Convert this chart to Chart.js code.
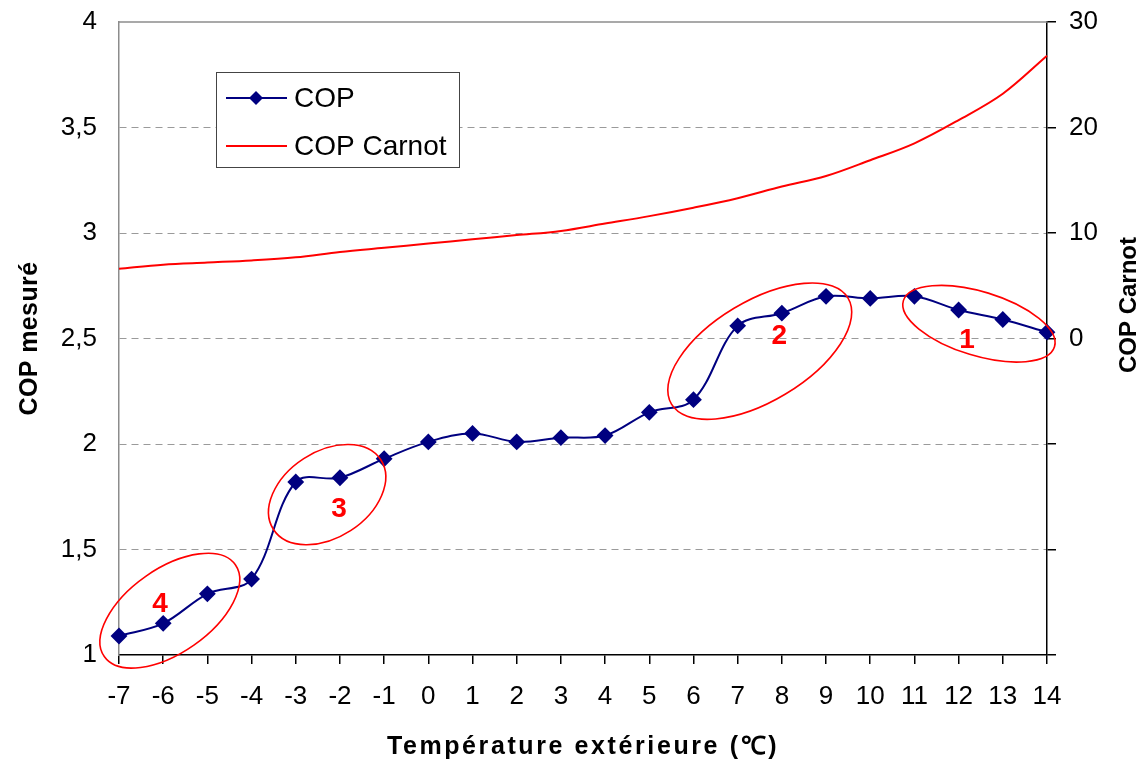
<!DOCTYPE html>
<html><head><meta charset="utf-8">
<script src="https://cdn.jsdelivr.net/npm/chart.js@4/dist/chart.umd.min.js"></script>
<style>html,body{margin:0;padding:0;background:#fff}#wrap{width:1145px;height:764px}</style>
</head><body><div id="wrap"><canvas id="c" width="1145" height="764"></canvas></div>
<script>
// ---- data ----
const temperatures = [-7,-6,-5,-4,-3,-2,-1,0,1,2,3,4,5,6,7,8,9,10,11,12,13,14];
const copMesure = [1.09,1.15,1.29,1.36,1.82,1.84,1.93,2.01,2.05,2.01,2.03,2.04,2.15,2.21,2.56,2.62,2.70,2.69,2.70,2.635,2.59,2.53];
const copCarnot = [6.6,7.0,7.2,7.4,7.7,8.2,8.6,9.0,9.4,9.8,10.2,10.9,11.6,12.4,13.3,14.4,15.4,16.9,18.5,20.7,23.2,26.8];
const leftTickValues = [1,1.5,2,2.5,3,3.5,4];
const rightTickLabels = [0,10,20,30];
const seriesNames = ['COP','COP Carnot'];
const axisTitles = {x:'Température extérieure (℃)', y:'COP mesuré', y2:'COP Carnot'};

// annotation zones (centre in data units, radii in px)
const zones = [
  {label:'1', cx:12.46, cy:2.57, rx:79, ry:32, angle:17,  tx:12.19, ty:2.49},
  {label:'2', cx:7.5,   cy:2.44, rx:103, ry:50, angle:-31, tx:7.94, ty:2.51},
  {label:'3', cx:-2.29, cy:1.76, rx:64, ry:43, angle:-33, tx:-2.02, ty:1.69},
  {label:'4', cx:-5.85, cy:1.21, rx:80, ry:42, angle:-35, tx:-6.07, ty:1.24}
];

const FONT = '"Liberation Sans", Arial, sans-serif';
const NAVY = '#000080', RED = '#ff0000';

const overlay = {
  id:'overlay',
  afterDatasetsDraw(chart){
    const ctx = chart.ctx, a = chart.chartArea;
    const xs = chart.scales.x, ys = chart.scales.y;
    ctx.save();
    // top border
    ctx.strokeStyle = '#8c8c8c'; ctx.lineWidth = 1.5;
    ctx.beginPath(); ctx.moveTo(a.left, a.top); ctx.lineTo(a.right, a.top); ctx.stroke();
    // zones
    zones.forEach(z=>{
      const cx = xs.getPixelForValue(z.cx), cy = ys.getPixelForValue(z.cy);
      ctx.strokeStyle = RED; ctx.lineWidth = 1.6;
      ctx.beginPath();
      ctx.ellipse(cx, cy, z.rx, z.ry, z.angle*Math.PI/180, 0, Math.PI*2);
      ctx.stroke();
      ctx.fillStyle = RED; ctx.font = 'bold 28px '+FONT;
      ctx.textAlign='center'; ctx.textBaseline='middle';
      ctx.fillText(z.label, xs.getPixelForValue(z.tx), ys.getPixelForValue(z.ty));
    });
    // legend
    const lx=216, ly=72, lw=243, lh=95;
    ctx.fillStyle='#fff'; ctx.fillRect(lx,ly,lw,lh);
    ctx.strokeStyle='#444'; ctx.lineWidth=1; ctx.strokeRect(lx+0.5,ly+0.5,lw,lh);
    const rows=[ly+26, ly+74];
    ctx.lineWidth=2;
    ctx.strokeStyle=NAVY; ctx.beginPath(); ctx.moveTo(226,rows[0]); ctx.lineTo(287,rows[0]); ctx.stroke();
    ctx.fillStyle=NAVY; ctx.beginPath();
    ctx.moveTo(256,rows[0]-7); ctx.lineTo(263,rows[0]); ctx.lineTo(256,rows[0]+7); ctx.lineTo(249,rows[0]); ctx.closePath(); ctx.fill();
    ctx.strokeStyle=RED; ctx.beginPath(); ctx.moveTo(226,rows[1]); ctx.lineTo(287,rows[1]); ctx.stroke();
    ctx.fillStyle='#000'; ctx.font='28px '+FONT; ctx.textAlign='left'; ctx.textBaseline='middle';
    ctx.fillText(seriesNames[0],294,rows[0]+1);
    ctx.fillText(seriesNames[1],294,rows[1]+1);
    // axis titles
    ctx.fillStyle='#000'; ctx.textAlign='center'; ctx.textBaseline='middle';
    ctx.font='bold 25px '+FONT;
    ctx.letterSpacing='2.6px';
    ctx.fillText(axisTitles.x,(a.left+a.right)/2,747);
    ctx.letterSpacing='0.4px';
    ctx.save(); ctx.translate(30,(a.top+a.bottom)/2); ctx.rotate(-Math.PI/2);
    ctx.fillText(axisTitles.y,0,0); ctx.restore();
    ctx.letterSpacing='0px';
    ctx.font='bold 24px '+FONT;
    ctx.save(); ctx.translate(1129,305); ctx.rotate(-Math.PI/2);
    ctx.fillText(axisTitles.y2,0,0); ctx.restore();
    ctx.restore();
  }
};

function noPadV(s){ s.paddingTop=0; s.paddingBottom=0; }

new Chart(document.getElementById('c'),{
  type:'line',
  data:{datasets:[
    {label:seriesNames[0], data:temperatures.map((t,i)=>({x:t,y:copMesure[i]})), yAxisID:'y',
     borderColor:NAVY, backgroundColor:NAVY, borderWidth:2, pointStyle:'rectRot', pointRadius:7, pointHoverRadius:7,
     tension:0.35, clip:false, order:1},
    {label:seriesNames[1], data:temperatures.map((t,i)=>({x:t,y:copCarnot[i]})), yAxisID:'y2',
     borderColor:RED, borderWidth:2, pointRadius:0, tension:0.35, clip:false, order:2}
  ]},
  options:{
    responsive:false, animation:false, devicePixelRatio:1,
    layout:{padding:{top:22,left:0,right:0,bottom:0}},
    plugins:{legend:{display:false}, tooltip:{enabled:false}},
    scales:{
      x:{type:'linear', min:-7, max:14, position:'bottom',
         afterFit(s){s.height=109; s.paddingLeft=0; s.paddingRight=0;},
         afterBuildTicks(s){s.ticks=temperatures.map(v=>({value:v}));},
         ticks:{stepSize:1, color:'#000', font:{family:FONT,size:26}, padding:17, maxRotation:0, autoSkip:false,
                callback:v=>String(v)},
         grid:{drawOnChartArea:false, drawTicks:true, tickLength:9, color:'#000', lineWidth:1.5},
         border:{color:'#000', width:1.5}},
      y:{type:'linear', min:1, max:4, position:'left',
         afterFit(s){s.width=119; noPadV(s);},
         afterBuildTicks(s){s.ticks=leftTickValues.map(v=>({value:v}));},
         ticks:{color:'#000', font:{family:FONT,size:26}, padding:22, callback:v=>String(v).replace('.',',')},
         grid:{drawTicks:false, color:(c)=>(c.tick && (c.tick.value===1||c.tick.value===4))?'rgba(0,0,0,0)':'#9a9a9a', lineWidth:1},
         border:{color:'#8c8c8c', width:1.5, dash:[7,5]}},
      y2:{type:'linear', min:-30, max:30, position:'right',
         afterFit(s){s.width=98; noPadV(s);},
         ticks:{stepSize:10, color:'#000', font:{family:FONT,size:26}, padding:13,
                callback:v=>rightTickLabels.includes(v)?String(v):''},
         grid:{drawOnChartArea:false, drawTicks:true, tickLength:9, color:'#000', lineWidth:1.5},
         border:{color:'#000', width:1.5}}
    }
  },
  plugins:[overlay]
});
</script>
</body></html>
